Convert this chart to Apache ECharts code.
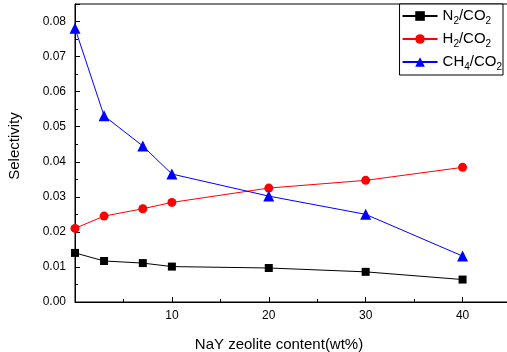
<!DOCTYPE html>
<html>
<head>
<meta charset="utf-8">
<script src="https://cdn.jsdelivr.net/npm/echarts@6/dist/echarts.min.js"></script>
<style>html,body{margin:0;padding:0;background:#fff;}#c{width:507px;height:352px;}</style>
</head>
<body>
<div id="c"></div>
<script>
var xValues = [0, 3, 7, 10, 20, 30, 40];
var n2co2 = [0.0140, 0.0117, 0.0111, 0.0101, 0.0097, 0.0086, 0.0064];
var h2co2 = [0.0210, 0.0245, 0.0266, 0.0284, 0.0325, 0.0347, 0.0384];
var ch4co2 = [0.0781, 0.0531, 0.0445, 0.0365, 0.0302, 0.0250, 0.0131];
var seriesNames = ['N2/CO2', 'H2/CO2', 'CH4/CO2'];
var legendLabels = {
  'N2/CO2': '{n|N}{s|2}{n|/CO}{s|2}',
  'H2/CO2': '{n|H}{s|2}{n|/CO}{s|2}',
  'CH4/CO2': '{n|CH}{s|4}{n|/CO}{s|2}'
};
var xTitle = 'NaY zeolite content(wt%)';
var yTitle = 'Selectivity';

function pairs(ys) { return xValues.map(function (x, i) { return [x, ys[i]]; }); }

var FONT = 'Liberation Sans, Arial, sans-serif';
var chart = echarts.init(document.getElementById('c'), null, {renderer: 'canvas'});
chart.setOption({
  animation: false,
  backgroundColor: '#fff',
  textStyle: {fontFamily: FONT},
  grid: {left: 75, right: -4, top: 4, bottom: 50, show: true, borderColor: '#000', borderWidth: 1,
         backgroundColor: 'transparent', containLabel: false, outerBoundsMode: 'none'},
  legend: {
    data: seriesNames,
    orient: 'vertical',
    right: 4, top: 4,
    padding: [3, 1, 3, 2],
    itemWidth: 35, itemHeight: 12, itemGap: 4,
    borderColor: '#000', borderWidth: 1, backgroundColor: '#fff',
    formatter: function (name) { return legendLabels[name]; },
    textStyle: {
      color: '#000', fontFamily: FONT,
      rich: {
        n: {fontSize: 15, lineHeight: 20, fontFamily: FONT, color: '#000', verticalAlign: 'middle'},
        s: {fontSize: 10, lineHeight: 20, fontFamily: FONT, color: '#000', padding: [9, 0, 0, 0], verticalAlign: 'bottom'}
      }
    }
  },
  xAxis: {
    type: 'value', min: 0, max: 45, interval: 10,
    name: xTitle, nameLocation: 'middle', nameGap: 35, nameMoveOverlap: false,
    nameTextStyle: {fontSize: 15, color: '#000', fontFamily: FONT, padding: [0, 28, 0, 0]},
    axisLine: {lineStyle: {color: '#000', width: 1}},
    axisTick: {inside: true, length: 5, lineStyle: {color: '#000'}},
    minorTick: {show: true, splitNumber: 2, length: 3, lineStyle: {color: '#000'}},
    splitLine: {show: false},
    axisLabel: {color: '#000', fontSize: 12, margin: 8, interval: 0, hideOverlap: false,
      showMinLabel: false, showMaxLabel: false, fontFamily: FONT}
  },
  yAxis: {
    type: 'value', min: 0, max: 0.085, interval: 0.01,
    name: yTitle, nameLocation: 'middle', nameGap: 53, nameMoveOverlap: false,
    nameTextStyle: {fontSize: 15, color: '#000', fontFamily: FONT, padding: [0, 0, 0, 14]},
    axisLine: {lineStyle: {color: '#000', width: 1}},
    axisTick: {inside: true, length: 5, lineStyle: {color: '#000'}},
    minorTick: {show: true, splitNumber: 2, length: 3, lineStyle: {color: '#000'}},
    splitLine: {show: false},
    axisLabel: {color: '#000', fontSize: 12, margin: 9, showMaxLabel: false, fontFamily: FONT,
      formatter: function (v) { return v.toFixed(2); }}
  },
  series: [
    {name: seriesNames[0], type: 'line', data: pairs(n2co2), symbol: 'rect', symbolSize: 8,
     itemStyle: {color: '#000'}, lineStyle: {color: '#000', width: 1}},
    {name: seriesNames[1], type: 'line', data: pairs(h2co2), symbol: 'circle', symbolSize: 9,
     itemStyle: {color: '#ff0000'}, lineStyle: {color: '#ff0000', width: 1}},
    {name: seriesNames[2], type: 'line', data: pairs(ch4co2), symbol: 'triangle', symbolSize: 11,
     itemStyle: {color: '#0000ff'}, lineStyle: {color: '#0000ff', width: 1}}
  ]
});
</script>
</body>
</html>
